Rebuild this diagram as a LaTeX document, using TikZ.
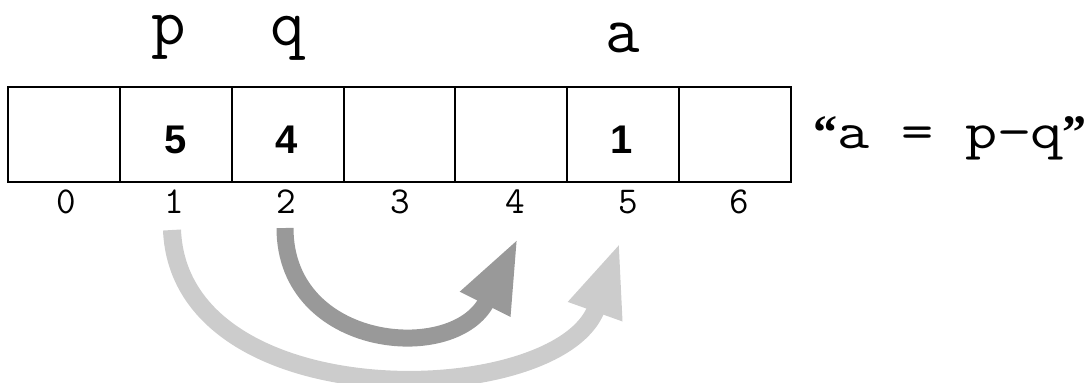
\documentclass[tikz,border=0pt]{standalone}
\usepackage{fontspec}
\usetikzlibrary{arrows.meta}
\definecolor{darkarr}{HTML}{999999}
\definecolor{lightarr}{HTML}{CCCCCC}
\newfontfamily\valfont{Liberation Sans}
\newfontfamily\quotefont{Liberation Serif}
\begin{document}
\begin{tikzpicture}[x=0.5pt,y=-0.5pt,
  cell/.style={draw=black,line width=1pt,minimum width=55.93pt,minimum height=47.5pt,inner sep=0pt,outer sep=0pt},
  val/.style={font=\valfont\bfseries\fontsize{20}{20}\selectfont,inner sep=0pt},
  idx/.style={font=\ttfamily\fontsize{19}{19}\selectfont,inner sep=0pt,anchor=base},
  lab/.style={font=\ttfamily\fontsize{33.5}{33.5}\selectfont,inner sep=0pt,anchor=base},
  eqn/.style={font=\ttfamily\fontsize{26}{26}\selectfont,inner sep=0pt,anchor=base west},
  darkarrow/.style={draw=darkarr,line width=8.5pt,-{Triangle[length=37pt,width=25.5pt]}},
  lightarrow/.style={draw=lightarr,line width=9pt,-{Triangle[length=37pt,width=26pt]}}]
\useasboundingbox (0,0) rectangle (1086,382);
\foreach \i in {0,...,6}{
  \node[cell] (c\i) at ({8+111.86*(\i+0.5)},134.5) {};
}
\node[val] (v1) at (176,140) {5};
\node[val] (v2) at (287,140) {4};
\node[val] (v5) at (622,140) {1};
\node[idx] (i0) at (66,213) {0};
\node[idx] (i1) at (174,213) {1};
\node[idx] (i2) at (286,213) {2};
\node[idx] (i3) at (400,213) {3};
\node[idx] (i4) at (515,213) {4};
\node[idx] (i5) at (628,213) {5};
\node[idx] (i6) at (739,213) {6};
\node[lab] (lp) at (169,44) {p};
\node[lab] (lq) at (288,45) {q};
\node[lab] (la) at (623,52) {a};
\node[eqn] (eq) at (813,148) {{\quotefont\bfseries\fontsize{24}{24}\selectfont “}\scalebox{1.2}[1]{a = p−q}{\quotefont\bfseries\fontsize{24}{24}\selectfont ”}};
\coordinate (s1) at (172,230);
\coordinate (t5) at (620,242);
\coordinate (s2) at (285,228);
\coordinate (t4) at (518,238);
\draw[lightarrow] (s1) .. controls (180,420) and (560,410) .. (t5);
\draw[darkarrow] (s2) .. controls (285,350) and (455,365) .. (t4);
\end{tikzpicture}
\end{document}
